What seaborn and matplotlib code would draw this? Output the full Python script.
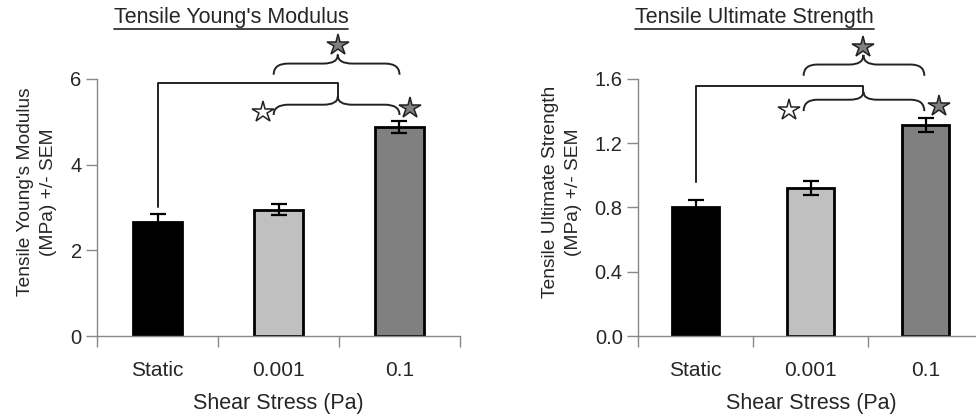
import numpy as np
import pandas as pd
import seaborn as sns
import matplotlib.pyplot as plt
from matplotlib.path import Path
from matplotlib.patches import PathPatch
from matplotlib.lines import Line2D

categories = ['Static', '0.001', '0.1']
bar_colors = ['#000000', '#c0c0c0', '#808080']

modulus = [2.66, 2.95, 4.89]
modulus_sem = [0.19, 0.13, 0.14]

strength = [0.80, 0.92, 1.315]
strength_sem = [0.045, 0.042, 0.042]

sns.set_style('white')
plt.rcParams['font.family'] = ['Liberation Sans', 'DejaVu Sans']
plt.rcParams['font.size'] = 15

fig = plt.figure(figsize=(9.76, 4.18), dpi=100)
ax1 = fig.add_axes([97 / 976, 82 / 418, 363 / 976, 257 / 418])
ax2 = fig.add_axes([638 / 976, 82 / 418, 345 / 976, 257 / 418])


def brace(ax, x0, x1, y_end, y_mid, y_tip, xt, dx=0.12):
    M, C, L = Path.MOVETO, Path.CURVE3, Path.LINETO
    verts = [(x0, y_end), (x0, y_mid), (x0 + dx, y_mid), (xt - dx, y_mid),
             (xt, y_mid), (xt, y_tip),
             (xt, y_tip), (xt, y_mid), (xt + dx, y_mid), (x1 - dx, y_mid),
             (x1, y_mid), (x1, y_end)]
    codes = [M, C, C, L, C, C, M, C, C, L, C, C]
    ax.add_patch(PathPatch(Path(verts, codes), fill=False, lw=1.4,
                           edgecolor='#222222', clip_on=False))


def star(ax, x, y, color):
    ax.plot([x], [y], marker='*', markersize=16, markerfacecolor=color,
            markeredgecolor='#222222', markeredgewidth=1.1, clip_on=False,
            linestyle='none')


def panel(ax, values, sems, ymax, yticks, fmt):
    df = pd.DataFrame({'shear': categories, 'value': values})
    sns.barplot(data=df, x='shear', y='value', hue='shear', palette=bar_colors,
                legend=False, width=0.41, edgecolor='black', linewidth=2, ax=ax)
    ax.errorbar(np.arange(len(categories)), values, yerr=sems, fmt='none',
                ecolor='black', elinewidth=1.6, capsize=6, capthick=1.6)
    ax.set_xlim(-0.5, 2.5)
    ax.set_ylim(0, ymax)
    ax.set_yticks(yticks)
    ax.set_yticklabels([fmt.format(t) for t in yticks], fontsize=14.5)
    ax.set_xticks([-0.5, 0.5, 1.5, 2.5])
    ax.set_xticklabels([])
    ax.set_xticks([0, 1, 2], minor=True)
    ax.set_xticklabels(categories, minor=True, fontsize=15)
    ax.tick_params(axis='x', which='major', length=8, width=1, color='#888888',
                   direction='out', bottom=True)
    ax.tick_params(axis='x', which='minor', length=0, pad=18)
    ax.tick_params(axis='y', length=8, width=1, color='#888888', direction='out',
                   left=True, pad=3)
    ax.set_xlabel('')
    ax.set_ylabel('')
    for s in ['top', 'right']:
        ax.spines[s].set_visible(False)
    for s in ['left', 'bottom']:
        ax.spines[s].set_color('#888888')
        ax.spines[s].set_linewidth(1)


panel(ax1, modulus, modulus_sem, 6, [0, 2, 4, 6], '{:g}')
panel(ax2, strength, strength_sem, 1.6, [0.0, 0.4, 0.8, 1.2, 1.6], '{:.1f}')

# significance brackets, left panel
ax1.plot([0, 0, 1.49, 1.49], [3.01, 5.91, 5.91, 5.59], color='#222222', lw=1.4,
         clip_on=False)
brace(ax1, 0.96, 2.0, 5.16, 5.40, 5.59, 1.49)
brace(ax1, 0.96, 2.0, 6.10, 6.36, 6.57, 1.49)
star(ax1, 1.49, 6.80, '#808080')
star(ax1, 0.876, 5.23, 'white')
star(ax1, 2.09, 5.33, '#808080')

# significance brackets, right panel
ax2.plot([0, 0, 1.46, 1.46], [0.956, 1.559, 1.559, 1.52], color='#222222', lw=1.4,
         clip_on=False)
brace(ax2, 0.94, 1.99, 1.40, 1.471, 1.52, 1.46)
brace(ax2, 0.94, 1.99, 1.62, 1.69, 1.75, 1.46)
star(ax2, 1.46, 1.80, '#808080')
star(ax2, 0.81, 1.41, 'white')
star(ax2, 2.12, 1.43, '#808080')

# titles (underlined), axis labels
titles = []
titles.append(fig.text(231 / 976, 1 - 17.5 / 418, "Tensile Young's Modulus",
                       ha='center', va='center', fontsize=15.5))
titles.append(fig.text(754.5 / 976, 1 - 17.5 / 418, 'Tensile Ultimate Strength',
                       ha='center', va='center', fontsize=15.5))

fig.text(37 / 976, 1 - 192 / 418, "Tensile Young's Modulus\n(MPa) +/- SEM",
         rotation=90, ha='center', va='center', multialignment='center',
         fontsize=13.8, linespacing=1.45)
fig.text(562 / 976, 1 - 192 / 418, 'Tensile Ultimate Strength\n(MPa) +/- SEM',
         rotation=90, ha='center', va='center', multialignment='center',
         fontsize=13.8, linespacing=1.45)
fig.text(278 / 976, 1 - 403 / 418, 'Shear Stress (Pa)', ha='center', va='center',
         fontsize=15.5)
fig.text(811 / 976, 1 - 403 / 418, 'Shear Stress (Pa)', ha='center', va='center',
         fontsize=15.5)

fig.canvas.draw()
r = fig.canvas.get_renderer()
for t in titles:
    bb = t.get_window_extent(r).transformed(fig.transFigure.inverted())
    fig.add_artist(Line2D([bb.x0, bb.x1], [bb.y0 - 0.002, bb.y0 - 0.002],
                          transform=fig.transFigure, color='#222222', lw=1.2))

fig.savefig('out.png', dpi=100)
